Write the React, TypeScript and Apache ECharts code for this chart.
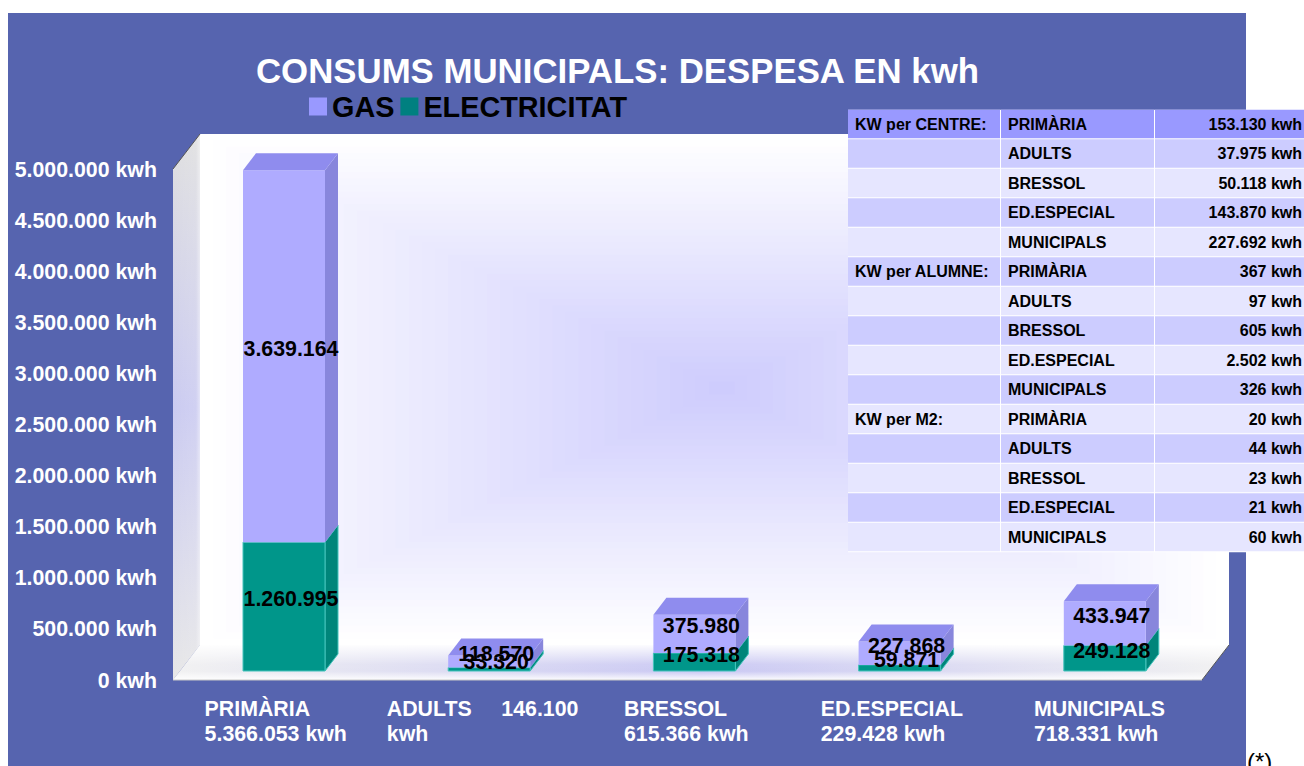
import React, { useEffect, useRef } from "react";
import * as echarts from "echarts";

const categories = ["PRIMÀRIA", "ADULTS", "BRESSOL", "ED.ESPECIAL", "MUNICIPALS"];
const categorySubLabels = ["5.366.053 kwh", "146.100", "615.366 kwh", "229.428 kwh", "718.331 kwh"];
const electricitat = [1260995, 33320, 175318, 59871, 249128];
const gas = [3639164, 118570, 375980, 227868, 433947];
const yTicks = [0, 5000000, 500000];

const tableGroups = ["KW per CENTRE:", "KW per ALUMNE:", "KW per M2:"];
const tableNames = ["PRIMÀRIA", "ADULTS", "BRESSOL", "ED.ESPECIAL", "MUNICIPALS"];
const kwPerCentre = ["153.130", "37.975", "50.118", "143.870", "227.692"];
const kwPerAlumne = ["367", "97", "605", "2.502", "326"];
const kwPerM2 = ["20", "44", "23", "21", "60"];

const FONT = '"Liberation Sans", Arial, sans-serif';
const dotted = (v: number) => String(Math.round(v)).replace(/\B(?=(\d{3})+(?!\d))/g, ".");

const FRONT_W = 82, DEPTH_X = 13, DEPTH_Y = 17, OFF_X = 8.4, OFF_Y = -9.5;

const boxRenderer = (front: string, top: string, side: string, stroke: string, order: number, drawTop: boolean) =>
  (_p: any, api: any) => {
    const i = api.value(0);
    const base = api.coord([i, api.value(1)]);
    const head = api.coord([i, api.value(2)]);
    const x0 = base[0] - FRONT_W / 2 + OFF_X;
    const x1 = x0 + FRONT_W;
    const y0 = base[1] + OFF_Y;
    const y1 = head[1] + OFF_Y;
    const children: any[] = [
      {
        type: "polygon", z2: order,
        shape: { points: [[x1, y0], [x1 + DEPTH_X, y0 - DEPTH_Y], [x1 + DEPTH_X, y1 - DEPTH_Y], [x1, y1]] },
        style: { fill: side, stroke, lineWidth: stroke === "none" ? 0 : 1 },
      },
      {
        type: "polygon", z2: order,
        shape: { points: [[x0, y0], [x1, y0], [x1, y1], [x0, y1]] },
        style: { fill: front, stroke, lineWidth: stroke === "none" ? 0 : 1 },
      },
    ];
    if (drawTop) {
      children.push({
        type: "polygon", z2: order,
        shape: { points: [[x0, y1], [x1, y1], [x1 + DEPTH_X, y1 - DEPTH_Y], [x0 + DEPTH_X, y1 - DEPTH_Y]] },
        style: { fill: top },
      });
    }
    children.push({
      type: "text", z2: 20,
      style: {
        x: (x0 + x1) / 2 + 7, y: (y0 + y1) / 2 - 7.5,
        text: dotted(api.value(3)),
        fill: "#000", font: `bold 21.33px ${FONT}`,
        align: "center", verticalAlign: "middle",
      },
    });
    return { type: "group", children };
  };

const mix = (t: number) => {
  const a = [255, 255, 255], b = [205, 203, 253];
  return `rgb(${a.map((c, k) => Math.round(c + (b[k] - c) * t)).join(",")})`;
};

function backdrop(): any[] {
  const L = 200, R = 1229, T = 134, B = 645, N = 40;
  const out: any[] = [
    { type: "rect", shape: { x: 8, y: 13, width: 1238, height: 753 }, style: { fill: "#5664AF" } },
  ];
  for (let k = 0; k < N; k++) {
    const t = k / N;
    const cx = 722, cy = 388;
    out.push({
      type: "rect",
      shape: {
        x: L + (cx - L) * t, y: T + (cy - T) * t,
        width: (R - L) - ((cx - L) + (R - cx)) * t,
        height: (B - T) - ((cy - T) + (B - cy)) * t,
      },
      style: { fill: mix(t) },
    });
  }
  const grad = (x: number, y: number, x2: number, y2: number, stops: [number, string][]) => ({
    type: "linear", x, y, x2, y2,
    colorStops: stops.map(([offset, color]) => ({ offset, color })),
  });
  // left wall
  const wall = [[173, 169], [200, 134], [200, 645], [173, 680]];
  out.push({
    type: "polygon", shape: { points: wall },
    style: { fill: grad(0, 0, 0, 1, [[0, "#DEDEDE"], [0.5, "#C8C8F0"], [1, "#E6E6E6"]]) },
  });
  out.push({
    type: "polygon", shape: { points: wall },
    style: { fill: grad(0, 0, 1, 0, [[0, "rgba(255,255,255,0.05)"], [0.85, "rgba(255,255,255,0.15)"], [1, "rgba(255,255,255,0.5)"]]) },
  });
  // floor
  const floor = [[173, 680], [200, 645], [1229, 645], [1202, 680]];
  out.push({
    type: "polygon", shape: { points: floor },
    style: { fill: grad(0, 0, 1, 0, [[0, "#F0F0F0"], [0.5, "#C4C2F2"], [1, "#F0F0F0"]]) },
  });
  out.push({
    type: "polygon", shape: { points: floor },
    style: { fill: grad(0, 0, 0, 1, [[0, "rgba(255,255,255,0.95)"], [0.55, "rgba(255,255,255,0.15)"], [0.75, "rgba(255,255,255,0.1)"], [1, "rgba(255,255,255,0.95)"]]) },
  });
  out.push({ type: "line", shape: { x1: 173, y1: 169, x2: 200, y2: 134 }, style: { stroke: "#555", lineWidth: 1 } });
  out.push({ type: "line", shape: { x1: 1202, y1: 680, x2: 1229, y2: 645 }, style: { stroke: "#555", lineWidth: 1 } });
  out.push({ type: "line", shape: { x1: 173, y1: 680, x2: 1202, y2: 680 }, style: { stroke: "#C8C8C8", lineWidth: 1 } });
  return out;
}

function table(): any[] {
  const out: any[] = [];
  const top = 109.8, rowH = 29.5;
  const cols = [848, 1001, 1155, 1304];
  const groups = [kwPerCentre, kwPerAlumne, kwPerM2];
  const font = `bold 16px ${FONT}`;
  out.push({ type: "rect", shape: { x: 848, y: top, width: 456, height: rowH * 15 }, style: { fill: "#fff" } });
  groups.forEach((vals, g) => {
    vals.forEach((v, r) => {
      const idx = g * 5 + r;
      const y = top + idx * rowH;
      const fill = idx === 0 ? "#9999FF" : idx % 2 === 1 ? "#CCCCFF" : "#E6E6FF";
      for (let c = 0; c < 3; c++) {
        out.push({
          type: "rect",
          shape: { x: cols[c], y, width: cols[c + 1] - cols[c] - (c < 2 ? 1 : 0), height: rowH - 1 },
          style: { fill },
        });
      }
      const cy = y + rowH / 2 - 0.5;
      if (r === 0) {
        out.push({ type: "text", style: { x: 855, y: cy, text: tableGroups[g], font, fill: "#000", align: "left", verticalAlign: "middle" } });
      }
      out.push({ type: "text", style: { x: 1008, y: cy, text: tableNames[r], font, fill: "#000", align: "left", verticalAlign: "middle" } });
      out.push({ type: "text", style: { x: 1302, y: cy, text: `${v} kwh`, font, fill: "#000", align: "right", verticalAlign: "middle" } });
    });
  });
  out.push({
    type: "text",
    style: { x: 1247, y: 761, text: "(*)", font: `24px ${FONT}`, fill: "#000", align: "left", verticalAlign: "middle" },
  });
  return out;
}

const labelWidths = [142, 188, 124, 141, 125];

export default function App() {
  const ref = useRef<HTMLDivElement>(null);
  useEffect(() => {
    const chart = echarts.init(ref.current!, undefined, { renderer: "svg" });
    const base = { fontFamily: FONT, fontWeight: "bold" as const };
    const rich: any = {};
    labelWidths.forEach((w, i) => {
      rich[`c${i}`] = { ...base, fontSize: 21.33, color: "#fff", width: w, align: "left", lineHeight: 25 };
    });
    chart.setOption({
      animation: false,
      backgroundColor: "#fff",
      title: {
        text: "CONSUMS MUNICIPALS: DESPESA EN kwh",
        left: 612.5, top: 48, textAlign: "center",
        textStyle: { ...base, fontSize: 34.8, color: "#fff" },
      },
      legend: {
        data: ["GAS", "ELECTRICITAT"],
        left: 309, top: 92,
        icon: "rect", itemWidth: 18, itemHeight: 18, itemGap: 6, padding: 0,
        textStyle: { ...base, fontSize: 28.8, color: "#000" },
        selectedMode: false,
      },
      grid: { left: 173, right: 105, top: 169.5, bottom: 85.5 },
      xAxis: {
        type: "category",
        data: categories,
        axisLine: { show: false },
        axisTick: { show: false },
        axisLabel: {
          margin: 16, interval: 0, lineHeight: 25,
          formatter: (v: string, i: number) =>
            i === 1
              ? `{c1|${v}     ${categorySubLabels[i]}}\n{c1|kwh}`
              : `{c${i}|${v}}\n{c${i}|${categorySubLabels[i]}}`,
          rich,
        },
      },
      yAxis: {
        type: "value",
        min: yTicks[0], max: yTicks[1], interval: yTicks[2],
        axisLine: { show: false },
        axisTick: { show: false },
        splitLine: { show: false },
        axisLabel: {
          ...base, fontSize: 21.33, color: "#fff", margin: 16,
          formatter: (v: number) => `${dotted(v)} kwh`,
        },
      },
      graphic: { elements: [...backdrop(), ...table()] },
      series: [
        {
          name: "GAS", type: "custom",
          itemStyle: { color: "#9999FF" },
          encode: { x: 0, y: 2 },
          data: gas.map((v, i) => [i, electricitat[i], electricitat[i] + v, v]),
          renderItem: boxRenderer("#AFABFF", "#8F8CEE", "#8886DC", "none", 2, true),
        },
        {
          name: "ELECTRICITAT", type: "custom",
          itemStyle: { color: "#008080" },
          encode: { x: 0, y: 2 },
          data: electricitat.map((v, i) => [i, 0, v, v]),
          renderItem: boxRenderer("#00968A", "#00968A", "#00857A", "#45C4BC", 1, false),
        },
      ],
    });
    return () => chart.dispose();
  }, []);
  return <div ref={ref} style={{ position: "absolute", left: 0, top: 0, width: 1304, height: 766 }} />;
}
